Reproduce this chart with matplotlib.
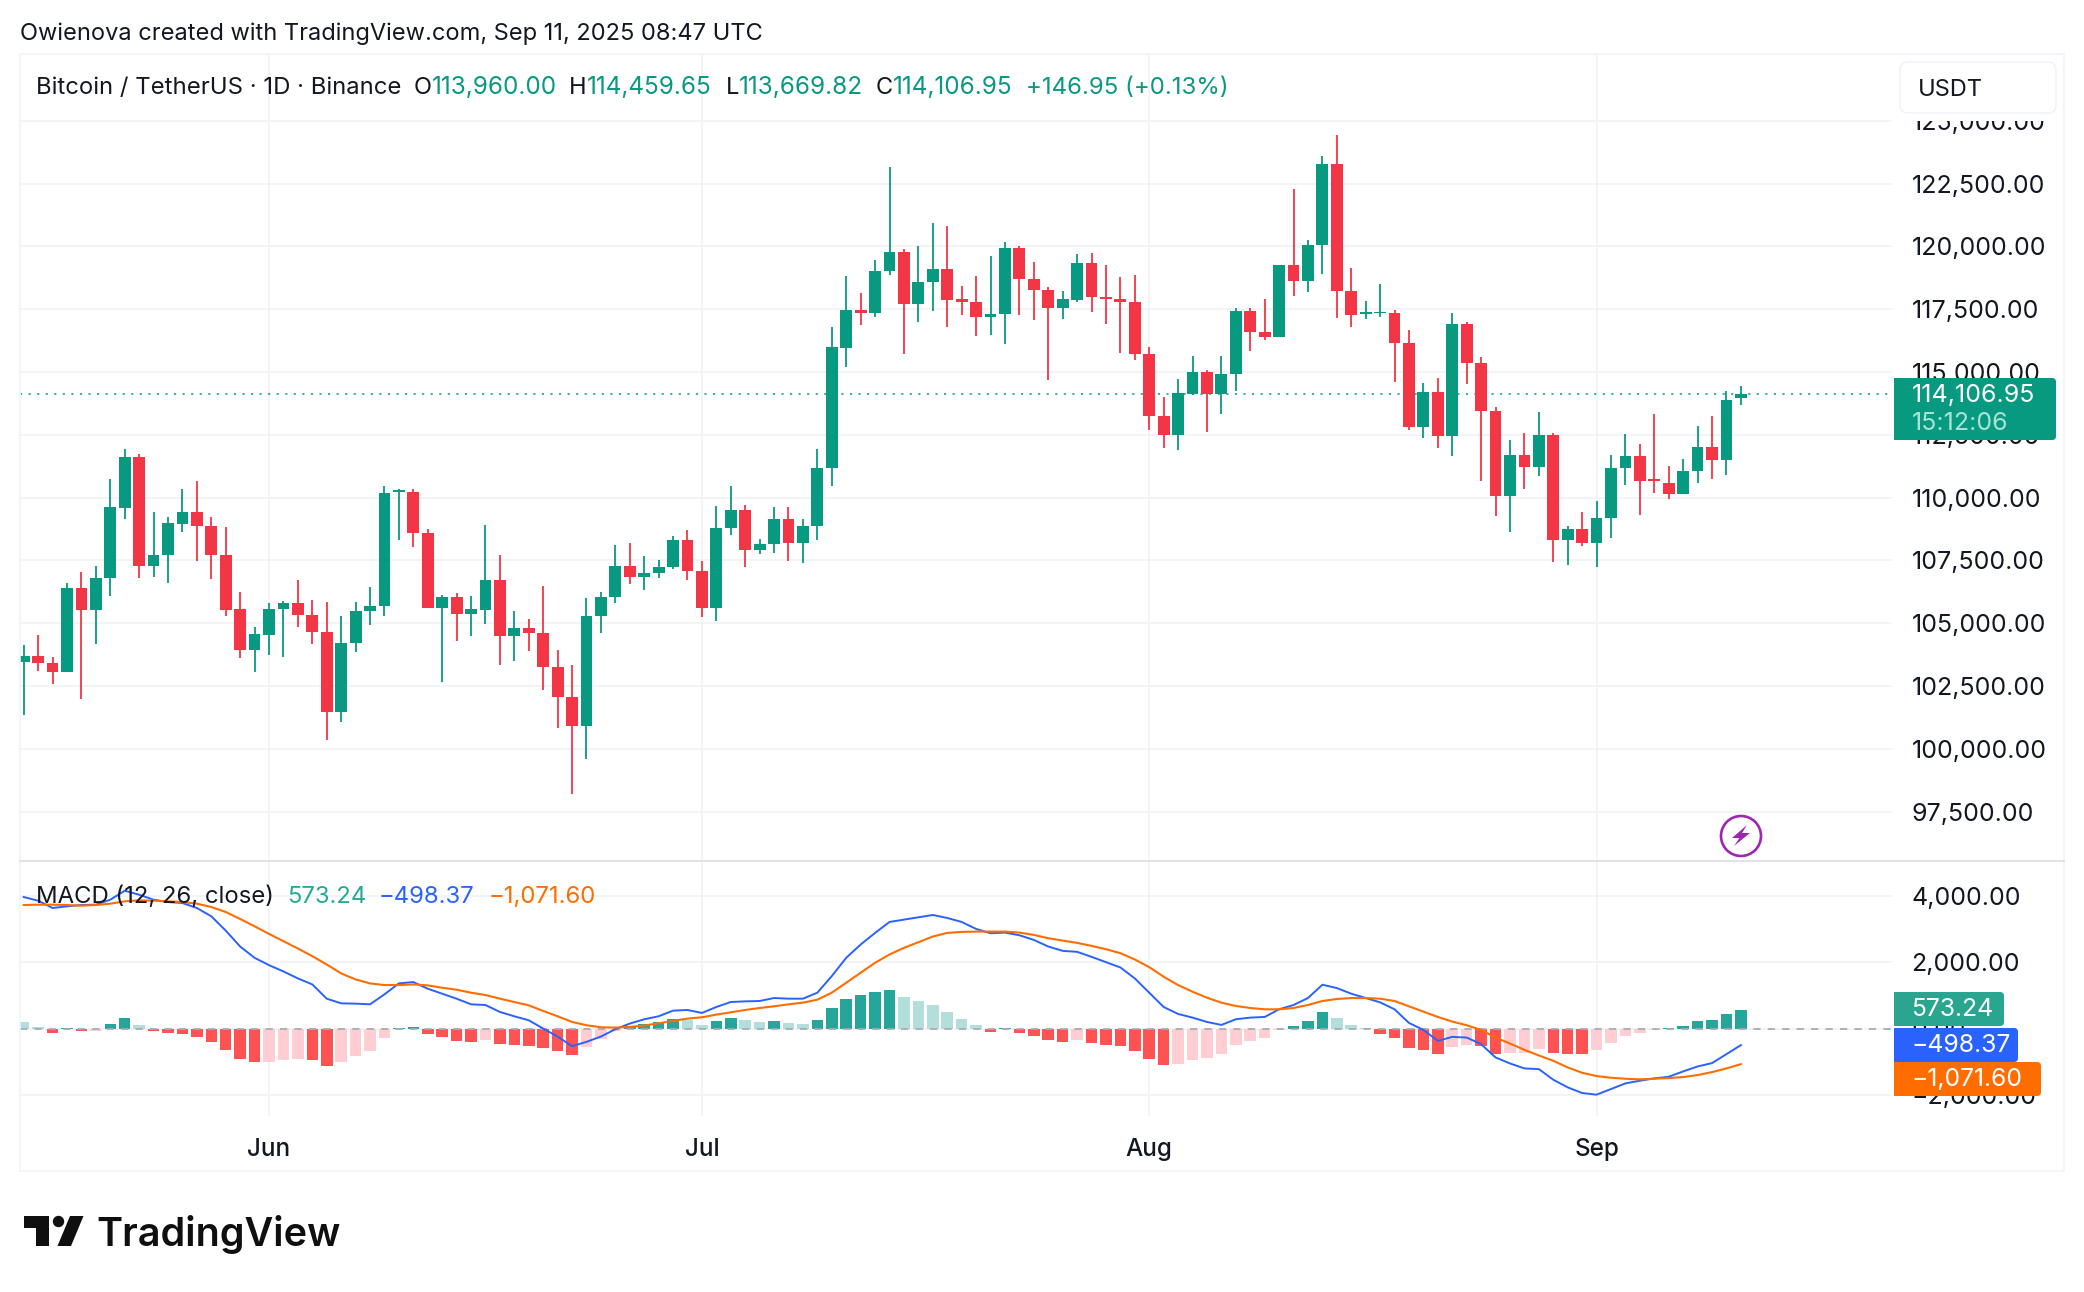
import matplotlib
matplotlib.use('Agg')
import matplotlib.pyplot as plt
import numpy as np
import pandas as pd
from matplotlib.patches import Polygon, Circle, Rectangle, FancyBboxPatch

W, H = 2084, 1292

dates = pd.date_range('2025-05-15', periods=120, freq='D')

opens = [103454,103710,103418,103052,106417,105521,106801,109581,111630,107277,
         107716,108960,109417,108868,107716,105558,103930,104533,105576,105814,
         105338,104661,101461,104204,105485,105686,110222,110240,108594,105613,
         106033,105375,105521,106728,104497,104808,104607,103253,102064,100912,
         105283,106052,107277,106856,106984,107222,108319,107076,105613,108795,
         109508,107917,108155,109161,108191,108868,111191,115965,117483,117355,
         119037,119787,117721,118598,119111,117903,117794,117190,117318,119915,
         118708,118269,117556,117849,119348,117977,117922,117794,115727,113258,
         112490,114117,115014,114117,114922,117410,116605,116385,119239,118635,
         120062,123262,118233,117318,117336,117355,116166,112819,114209,112453,
         116897,115361,113459,110075,111703,111228,112508,108319,108758,108191,
         109197,111191,111667,110715,110587,110148,111063,112014,111502,113960.00]
highs = [104131,104515,103656,106600,107039,107277,110752,111941,111740,109435,
         109234,110350,110661,109234,108832,106253,104844,105814,105887,106728,
         105923,105850,105302,105850,106454,110478,110350,110350,108758,106125,
         106216,106088,108923,107716,105485,105174,106490,103930,103345,106015,
         106253,108100,108191,107679,107533,108484,108722,107478,109673,110478,
         109691,108356,109636,109636,109161,111941,116806,118836,118159,119440,
         123171,119879,120025,120940,120793,118434,118800,119623,120190,120025,
         119385,118379,118233,119714,119751,119239,118763,118873,116001,114008,
         114739,115654,115087,115654,117556,117556,117885,119275,122293,120263,
         123610,124415,119147,117830,118507,117464,116678,114556,114776,117355,
         116971,115581,113624,112307,112581,113422,112581,108868,109435,109874,
         111703,112544,112142,113331,111264,111539,112855,113258,114245,114459.65]
lows = [101351,103089,102576,103052,101991,104168,106088,109161,106801,106838,
        106600,108630,107478,106765,105283,103619,103052,103729,103656,104844,
        104168,100345,101058,103857,104936,105283,108319,108045,105613,102668,
        104296,104497,104972,103345,103491,103893,102339,100820,98205,99595,
        104607,105814,106564,106326,106801,107167,106728,105247,105082,108521,
        107240,107752,107789,107478,107405,108319,110459,115215,116879,117190,
        118855,115727,117007,117428,116806,117282,116440,116477,116129,117282,
        117080,114684,117117,117794,117391,116916,115763,115489,112691,111977,
        111904,114081,112618,113313,114245,115837,116276,116385,118031,118196,
        118909,117154,116806,117117,117172,114611,112691,112380,111977,111667,
        114538,110661,109271,108630,110350,110862,107442,107314,108082,107240,
        108393,110514,109307,110185,109947,110148,110587,110752,110898,113669.82]
closes = [103710,103418,103052,106417,105521,106801,109618,111630,107277,107734,
          108978,109417,108868,107716,105521,103930,104552,105576,105814,105320,
          104643,101461,104223,105485,105686,110185,110295,108594,105613,106033,
          105375,105558,106728,104497,104808,104607,103253,102064,100912,105302,
          106052,107277,106856,107003,107240,108319,107076,105613,108795,109508,
          107917,108155,109161,108191,108868,111191,115983,117483,117355,119037,
          119787,117721,118598,119111,117867,117775,117190,117318,119915,118708,
          118269,117556,117903,119348,117995,117903,117794,115727,113258,112490,
          114172,115014,114117,114922,117410,116605,116385,119239,118635,120062,
          123262,118233,117282,117355,117391,116166,112801,114209,112453,116897,
          115361,113459,110075,111703,111228,112508,108319,108758,108191,109197,
          111191,111667,110661,110661,110148,111063,112014,111502,113898,114106.95]

macd_hist = [200,50,-120,10,-70,-60,140,320,110,-70,
             -130,-160,-250,-400,-640,-910,-1010,-1000,-940,-920,
             -940,-1120,-1000,-820,-670,-270,20,50,-160,-250,
             -380,-400,-340,-470,-500,-510,-580,-670,-790,-540,
             -300,-70,90,130,200,290,260,120,220,320,
             260,190,230,170,140,260,620,890,1010,1100,
             1160,950,830,720,500,290,120,-100,30,-130,
             -220,-340,-400,-340,-430,-490,-520,-670,-910,-1090,
             -1060,-940,-880,-760,-490,-370,-280,-40,80,230,
             500,320,110,30,-160,-280,-570,-630,-780,-550,
             -500,-520,-760,-750,-740,-620,-750,-770,-780,-660,
             -430,-210,-140,-50,20,80,230,260,440,573.24]
macd_line = [3960,3850,3630,3680,3720,3730,3880,4150,4030,3880,
             3810,3780,3630,3380,2950,2470,2130,1910,1720,1510,
             1330,900,760,750,730,1030,1360,1400,1200,1050,
             900,730,710,500,370,250,0,-240,-530,-400,
             -240,-20,150,280,370,540,560,470,650,800,
             820,830,920,900,900,1080,1580,2130,2530,2880,
             3210,3280,3350,3420,3330,3210,3000,2870,2890,2810,
             2670,2470,2340,2310,2160,2000,1840,1510,1080,650,
             440,330,200,110,280,330,350,580,710,920,
             1320,1220,1050,920,790,580,170,-40,-370,-250,
             -270,-470,-870,-1050,-1200,-1220,-1540,-1770,-1940,-1990,
             -1820,-1650,-1570,-1500,-1450,-1290,-1140,-1040,-770,-498.37]
signal_line = [3720,3730,3730,3720,3700,3720,3760,3830,3860,3850,
               3830,3810,3760,3660,3510,3300,3080,2850,2630,2410,
               2180,1930,1660,1480,1360,1310,1310,1330,1300,1230,
               1170,1080,1010,900,800,700,530,370,200,100,
               40,30,50,90,160,230,300,340,420,490,
               560,620,670,730,780,870,1080,1380,1680,1980,
               2230,2430,2600,2770,2880,2910,2920,2920,2920,2890,
               2820,2720,2650,2580,2490,2390,2270,2080,1850,1560,
               1310,1110,930,780,680,620,580,580,620,710,
               830,890,920,920,900,830,670,510,350,210,
               100,-40,-270,-450,-640,-810,-970,-1170,-1330,-1430,
               -1480,-1510,-1530,-1510,-1490,-1460,-1400,-1310,-1200,-1071.60]

price_ticks = [97500,100000,102500,105000,107500,110000,112500,115000,117500,120000,122500,125000]
macd_ticks = [-2000,0,2000,4000]
month_ticks = ['2025-06-01','2025-07-01','2025-08-01','2025-09-01']
month_labels = ['Jun','Jul','Aug','Sep']
last_price = 114106.95

UP = '#089981'
DOWN = '#F23645'
INK = '#131722'
GRID = '#f1f3f6'
FONT = 'Inter'

plt.rcParams['font.family'] = [FONT, 'DejaVu Sans']


def px_axes(left, top, right, bottom):
    return fig.add_axes([left / W, 1 - bottom / H, (right - left) / W, (bottom - top) / H])


fig = plt.figure(figsize=(W / 100, H / 100), dpi=100, facecolor='white')

ax = px_axes(20, 54, 1892, 861)
ax2 = px_axes(20, 861, 1892, 1116)

# x range from the first candle position
day = 14.43
x_left = dates[0] - pd.Timedelta(days=(23.7 - 20) / day)
x_right = dates[0] + pd.Timedelta(days=(1892 - 23.7) / day)

# candles
o, h, l, c = map(np.array, (opens, highs, lows, closes))
colors = np.where(c >= o, UP, DOWN)
ax.vlines(dates, l, h, colors=colors, linewidth=1.3, zorder=3)
ax.bar(dates, np.maximum(np.abs(c - o), 60), bottom=np.minimum(o, c), width=0.82,
       color=colors, linewidth=0, zorder=4)
ax.axhline(last_price, color=UP, linewidth=1.1, linestyle=(0, (1.4, 4.2)), zorder=2)

ax.set_xlim(x_left, x_right)
ax.set_ylim(95538, 127654)
ax.set_yticks(price_ticks)
ax.set_yticklabels([f'{v:,.2f}' for v in price_ticks])
ax.set_xticks(pd.to_datetime(month_ticks))
ax.tick_params(axis='x', length=0, labelbottom=False)

# macd pane
hist = np.array(macd_hist)
prev = np.r_[np.inf, hist[:-1]]
hist_colors = []
for v, p in zip(hist, prev):
    if v >= 0:
        hist_colors.append('#26a69a' if v > p else '#b2dfdb')
    else:
        hist_colors.append('#ff5252' if v < p else '#ffcdd2')
ax2.bar(dates, hist, width=0.8, color=hist_colors, linewidth=0, zorder=2)
ax2.axhline(0, color='#a9abb3', linewidth=1.3, linestyle=(0, (4, 4)), zorder=3)
ax2.plot(dates, macd_line, color='#2962FF', linewidth=1.4, zorder=4)
ax2.plot(dates, signal_line, color='#FF6D00', linewidth=1.5, zorder=5)

ax2.set_xlim(x_left, x_right)
ax2.set_ylim(-2632, 5045)
ax2.set_yticks(macd_ticks)
ax2.set_yticklabels([f'{v:,.2f}'.replace('-', '\u2212') for v in macd_ticks])
ax2.set_xticks(pd.to_datetime(month_ticks))
ax2.set_xticklabels(month_labels, fontsize=17.5, fontweight='medium', color=INK)
ax2.tick_params(axis='x', length=0, pad=16)

for a in (ax, ax2):
    a.set_facecolor('none')
    a.set_axisbelow(True)
    a.grid(True, color=GRID, linewidth=1.3)
    a.yaxis.tick_right()
    a.tick_params(axis='y', length=0, pad=14, labelsize=18, labelcolor=INK)
    for t in a.get_yticklabels():
        t.set_verticalalignment('center_baseline')
    for s in a.spines.values():
        s.set_visible(False)

# overlay in pixel coordinates for the TradingView furniture
ov = fig.add_axes([0, 0, 1, 1], zorder=10)
ov.set_xlim(0, W)
ov.set_ylim(H, 0)
ov.axis('off')
ov.patch.set_alpha(0)

ov.add_patch(Rectangle((20, 54), 2044, 1117, fill=False, edgecolor='#f0f3fa', linewidth=1.2))
ov.plot([20, 2064], [861, 861], color='#e0e3eb', linewidth=1.5)


def label(x, y, s, color=INK, size=17, **kw):
    ov.text(x, y, s, color=color, fontsize=size, va='center', ha=kw.pop('ha', 'left'), **kw)


def tag(left, top, right, bottom, color):
    # square on the left, rounded on the right
    ov.add_patch(FancyBboxPatch((left + 4, top + 4), right - left - 8, bottom - top - 8,
                                boxstyle='round,pad=4,rounding_size=4', facecolor=color, edgecolor='none'))
    ov.add_patch(Rectangle((left, top), 12, bottom - top, facecolor=color, edgecolor='none'))


label(20, 34, 'Owienova created with TradingView.com, Sep 11, 2025 08:47 UTC')

label(36, 88, 'Bitcoin / TetherUS \u00b7 1D \u00b7 Binance', size=17.2)
label(414, 88, 'O')
label(432, 88, '113,960.00', UP, 17.5)
label(569, 88, 'H')
label(587, 88, '114,459.65', UP, 17.5)
label(726, 88, 'L')
label(739, 88, '113,669.82', UP, 17.5)
label(876, 88, 'C')
label(893, 88, '114,106.95', UP, 17.5)
label(1026, 88, '+146.95 (+0.13%)', UP, 17.3)

# top of the price scale sits under the symbol box
ov.add_patch(Rectangle((1896, 56), 166, 65, facecolor='white', edgecolor='none'))
ov.add_patch(FancyBboxPatch((1903, 65), 150, 45, boxstyle='round,pad=3,rounding_size=8',
                            facecolor='white', edgecolor='#f0f3fa', linewidth=1.2))
label(1918, 90, 'USDT', size=17)

# last price tag
tag(1894, 378, 2056, 440, UP)
label(1912, 395, '114,106.95', 'white', 18)
label(1912, 423, '15:12:06', '#a8e4d6', 18)

# macd tags
tag(1894, 992, 2004, 1026, '#2aa58f')
label(1911, 1010, '573.24', 'white', 17.8)
tag(1894, 1028, 2018, 1062, '#2962FF')
label(1911, 1046, '\u2212498.37', 'white', 17.8)
tag(1894, 1062, 2041, 1096, '#FF6D00')
label(1911, 1080, '\u22121,071.60', 'white', 17.8)

# macd legend
label(36, 897, 'MACD (12, 26, close)', size=17.2)
label(287, 897, '573.24', '#22ab94', 17.2)
label(379, 897, '\u2212498.37', '#2962FF', 17.2)
label(489, 897, '\u22121,071.60', '#FF6D00', 17.2)

# lightning badge
ov.add_patch(Circle((1741, 836), 20, fill=False, edgecolor='#9c27b0', linewidth=1.9))
ov.add_patch(Polygon([(1747, 825), (1732, 838), (1739.5, 838), (1734, 846), (1750, 833), (1742, 833)],
                     closed=True, facecolor='#9c27b0', edgecolor='none'))

# logo
ov.add_patch(Polygon([(24, 1216), (49, 1216), (49, 1246), (36, 1246), (36, 1228), (24, 1228)],
                     closed=True, facecolor='#0f0f0f', edgecolor='none'))
ov.add_patch(Circle((58.5, 1221.5), 5.7, facecolor='#0f0f0f', edgecolor='none'))
ov.add_patch(Polygon([(70, 1216), (83.5, 1216), (71, 1246), (57.5, 1246)],
                     closed=True, facecolor='#0f0f0f', edgecolor='none'))
ov.text(96, 1246, 'TradingView', color='#0f0f0f', fontsize=28.5, fontweight='semibold',
        va='baseline', ha='left')

fig.savefig('out.png', dpi=100, facecolor='white')
